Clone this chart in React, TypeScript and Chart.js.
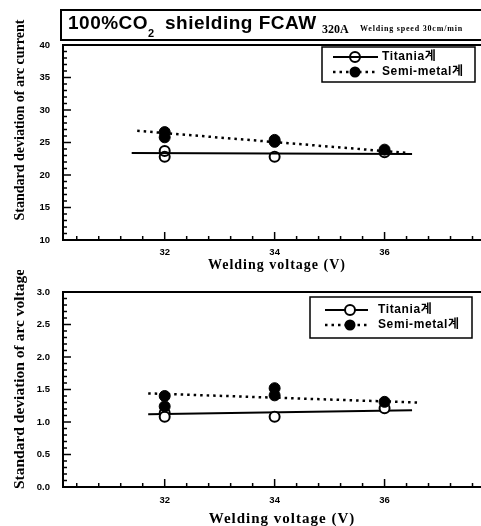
import React, { useEffect, useRef } from "react";
import { Chart, registerables } from "chart.js";

Chart.register(...registerables);

// ---------- data ----------
const xTickValues = [32, 34, 36];
const currentTicksStep = 5;
const voltageTicksStep = 0.5;

// Arc current chart
const curTitaniaX = [32, 32, 34, 36];
const curTitaniaY = [23.7, 22.8, 22.8, 23.5];
const curSemiX = [32, 32, 34, 34, 36];
const curSemiY = [26.6, 25.8, 25.4, 25.1, 23.9];
const curTitaniaFitX = [31.4, 36.5];
const curTitaniaFitY = [23.4, 23.25];
const curSemiFitX = [31.5, 36.4];
const curSemiFitY = [26.8, 23.4];

// Arc voltage chart
const voltTitaniaX = [32, 32, 34, 36];
const voltTitaniaY = [1.14, 1.08, 1.08, 1.21];
const voltSemiX = [32, 32, 34, 34, 36];
const voltSemiY = [1.4, 1.24, 1.52, 1.41, 1.31];
const voltTitaniaFitX = [31.7, 36.5];
const voltTitaniaFitY = [1.12, 1.18];
const voltSemiFitX = [31.7, 36.6];
const voltSemiFitY = [1.44, 1.3];

const legendLabels = ["Titania계", "Semi-metal계"];

// ---------- styling ----------
const SERIF = "'Liberation Serif', 'DejaVu Serif', serif";
const SANS = "'Liberation Sans', Arial, 'Noto Sans CJK KR', sans-serif";
const CANVAS_W = 500;
const AREA_LEFT = 63;
const AREA_RIGHT = 489;
const X_MIN = 30.15;
const X_MAX = 37.9;

const zip = (xs: number[], ys: number[]) => xs.map((x, i) => ({ x, y: ys[i] }));

type Panel = {
  canvasTop: number;
  height: number;
  areaTop: number;
  areaBottom: number;
  yMin: number;
  yMax: number;
  yStep: number;
  yMinorCount: number;
  yDecimals: number;
  yLabelPad: number;
  xLabelPad: number;
  tiX: number[]; tiY: number[]; smX: number[]; smY: number[];
  tiFitX: number[]; tiFitY: number[]; smFitX: number[]; smFitY: number[];
  openFill: string;
  legend: { x: number; y: number; w: number; h: number; rows: number[]; l1: number; l2: number; mx: number; tx: number };
  yTitle: { text: string; x: number; y: number; size: number; spacing: number };
  xTitle: { text: string; x: number; y: number; size: number; spacing: number };
  mainTitle: boolean;
};

const topPanel: Panel = {
  canvasTop: 0,
  height: 275,
  areaTop: 45,
  areaBottom: 240,
  yMin: 10,
  yMax: 40,
  yStep: currentTicksStep,
  yMinorCount: 30,
  yDecimals: 0,
  yLabelPad: 13,
  xLabelPad: 7,
  tiX: curTitaniaX, tiY: curTitaniaY, smX: curSemiX, smY: curSemiY,
  tiFitX: curTitaniaFitX, tiFitY: curTitaniaFitY, smFitX: curSemiFitX, smFitY: curSemiFitY,
  openFill: "rgba(255,255,255,0)",
  legend: { x: 322, y: 47, w: 153, h: 35, rows: [57, 72], l1: 333, l2: 378, mx: 355, tx: 382 },
  yTitle: { text: "Standard deviation of arc current", x: 20, y: 120, size: 14, spacing: 0 },
  xTitle: { text: "Welding voltage (V)", x: 277, y: 265, size: 14, spacing: 1 },
  mainTitle: true,
};

const bottomPanel: Panel = {
  canvasTop: 270,
  height: 262,
  areaTop: 22,
  areaBottom: 217,
  yMin: 0,
  yMax: 3,
  yStep: voltageTicksStep,
  yMinorCount: 30,
  yDecimals: 1,
  yLabelPad: 13,
  xLabelPad: 8,
  tiX: voltTitaniaX, tiY: voltTitaniaY, smX: voltSemiX, smY: voltSemiY,
  tiFitX: voltTitaniaFitX, tiFitY: voltTitaniaFitY, smFitX: voltSemiFitX, smFitY: voltSemiFitY,
  openFill: "#ffffff",
  legend: { x: 310, y: 27, w: 162, h: 41, rows: [40, 55], l1: 325, l2: 368, mx: 350, tx: 378 },
  yTitle: { text: "Standard deviation of arc voltage", x: 20, y: 109, size: 15.5, spacing: 0 },
  xTitle: { text: "Welding voltage (V)", x: 282, y: 249, size: 15, spacing: 1 },
  mainTitle: false,
};

function decorPlugin(p: Panel) {
  return {
    id: "decor",
    afterDraw(chart: any) {
      const ctx: CanvasRenderingContext2D = chart.ctx;
      const { left, top, bottom } = chart.chartArea;
      const xs = chart.scales.x;
      const ys = chart.scales.y;
      ctx.save();
      ctx.strokeStyle = "#000";
      ctx.fillStyle = "#000";

      // top frame line
      ctx.lineWidth = 2;
      ctx.beginPath();
      ctx.moveTo(left - 1, top);
      ctx.lineTo(chart.width, top);
      ctx.stroke();

      // inward x ticks (every 0.4 V, major every 2 V)
      ctx.lineWidth = 1.5;
      for (let k = 76; k <= 94; k++) {
        const v = k * 0.4;
        const px = xs.getPixelForValue(v);
        const len = k % 5 === 0 ? 8 : 4;
        ctx.beginPath();
        ctx.moveTo(px, bottom);
        ctx.lineTo(px, bottom - len);
        ctx.stroke();
      }
      // inward y ticks
      for (let i = 1; i < p.yMinorCount; i++) {
        const v = p.yMin + ((p.yMax - p.yMin) * i) / p.yMinorCount;
        const py = ys.getPixelForValue(v);
        const len = i % 5 === 0 ? 8 : 4;
        ctx.beginPath();
        ctx.moveTo(left, py);
        ctx.lineTo(left + len, py);
        ctx.stroke();
      }

      // legend
      const L = p.legend;
      ctx.lineWidth = 1.5;
      ctx.strokeRect(L.x, L.y, L.w, L.h);
      ctx.lineWidth = 2;
      ctx.beginPath();
      ctx.moveTo(L.l1, L.rows[0]);
      ctx.lineTo(L.l2, L.rows[0]);
      ctx.stroke();
      ctx.beginPath();
      ctx.arc(L.mx, L.rows[0], 5, 0, Math.PI * 2);
      ctx.fillStyle = p.openFill;
      ctx.fill();
      ctx.stroke();
      ctx.setLineDash([2.5, 4]);
      ctx.lineWidth = 2.5;
      ctx.beginPath();
      ctx.moveTo(L.l1, L.rows[1]);
      ctx.lineTo(L.l2, L.rows[1]);
      ctx.stroke();
      ctx.setLineDash([]);
      ctx.fillStyle = "#000";
      ctx.beginPath();
      ctx.arc(L.mx, L.rows[1], 5.5, 0, Math.PI * 2);
      ctx.fill();
      ctx.font = `bold 12px ${SANS}`;
      ctx.textBaseline = "middle";
      ctx.textAlign = "left";
      (ctx as any).letterSpacing = "0.6px";
      ctx.fillText(legendLabels[0], L.tx, L.rows[0]);
      ctx.fillText(legendLabels[1], L.tx, L.rows[1]);

      // axis titles
      ctx.textAlign = "center";
      ctx.textBaseline = "middle";
      (ctx as any).letterSpacing = `${p.xTitle.spacing}px`;
      ctx.font = `bold ${p.xTitle.size}px ${SERIF}`;
      ctx.fillText(p.xTitle.text, p.xTitle.x, p.xTitle.y);
      (ctx as any).letterSpacing = `${p.yTitle.spacing}px`;
      ctx.save();
      ctx.translate(p.yTitle.x, p.yTitle.y);
      ctx.rotate(-Math.PI / 2);
      ctx.font = `bold ${p.yTitle.size}px ${SERIF}`;
      ctx.fillText(p.yTitle.text, 0, 0);
      ctx.restore();
      (ctx as any).letterSpacing = "0px";

      // main title box
      if (p.mainTitle) {
        ctx.lineWidth = 2;
        ctx.strokeRect(61, 10, CANVAS_W, 30);
        ctx.textAlign = "left";
        ctx.textBaseline = "alphabetic";
        ctx.font = `bold 19px ${SANS}`;
        (ctx as any).letterSpacing = "0.5px";
        ctx.fillText("100%CO", 68, 29);
        ctx.font = `bold 11px ${SANS}`;
        ctx.fillText("2", 148, 37);
        ctx.font = `bold 19px ${SANS}`;
        ctx.fillText("shielding FCAW", 165, 29);
        (ctx as any).letterSpacing = "0px";
        ctx.font = `bold 12px ${SERIF}`;
        ctx.fillText("320A", 322, 33);
        ctx.font = `bold 8px ${SERIF}`;
        (ctx as any).letterSpacing = "0.8px";
        ctx.fillText("Welding speed 30cm/min", 360, 31);
        (ctx as any).letterSpacing = "0px";
      }
      ctx.restore();
    },
  };
}

function buildConfig(p: Panel): any {
  const tickFont = { family: SANS, size: 9.5, weight: "bold" as const };
  return {
    type: "scatter",
    data: {
      datasets: [
        {
          label: "Titania fit",
          data: zip(p.tiFitX, p.tiFitY),
          showLine: true,
          borderColor: "#000",
          borderWidth: 2,
          pointRadius: 0,
          order: 3,
        },
        {
          label: "Semi-metal fit",
          data: zip(p.smFitX, p.smFitY),
          showLine: true,
          borderColor: "#000",
          borderWidth: 2.5,
          borderDash: [2.5, 4],
          pointRadius: 0,
          order: 3,
        },
        {
          label: legendLabels[0],
          data: zip(p.tiX, p.tiY),
          showLine: false,
          pointRadius: 5,
          pointBorderWidth: 2,
          pointBorderColor: "#000",
          pointBackgroundColor: p.openFill,
          order: 2,
        },
        {
          label: legendLabels[1],
          data: zip(p.smX, p.smY),
          showLine: false,
          pointRadius: 5.5,
          pointBorderWidth: 1,
          pointBorderColor: "#000",
          pointBackgroundColor: "#000",
          order: 1,
        },
      ],
    },
    options: {
      animation: false,
      responsive: false,
      maintainAspectRatio: false,
      events: [],
      layout: { padding: { top: p.areaTop, left: 0, right: CANVAS_W - AREA_RIGHT, bottom: 0 } },
      plugins: { legend: { display: false }, tooltip: { enabled: false }, title: { display: false } },
      scales: {
        x: {
          type: "linear",
          position: "bottom",
          min: X_MIN,
          max: X_MAX,
          grid: { display: false, drawTicks: false },
          border: { display: true, color: "#000", width: 2 },
          ticks: {
            color: "#000",
            font: tickFont,
            padding: p.xLabelPad,
            maxRotation: 0,
            autoSkip: false,
            callback: (v: number) => String(v),
          },
          afterBuildTicks: (s: any) => {
            s.ticks = xTickValues.map((v) => ({ value: v }));
          },
          afterFit: (s: any) => {
            s.height = p.height - p.areaBottom;
          },
        },
        y: {
          type: "linear",
          position: "left",
          min: p.yMin,
          max: p.yMax,
          grid: { display: false, drawTicks: false },
          border: { display: true, color: "#000", width: 2 },
          ticks: {
            color: "#000",
            font: tickFont,
            padding: p.yLabelPad,
            stepSize: p.yStep,
            callback: (v: number) => Number(v).toFixed(p.yDecimals),
          },
          afterFit: (s: any) => {
            s.width = AREA_LEFT;
          },
        },
      },
    },
    plugins: [decorPlugin(p)],
  };
}

function ChartPanel({ panel }: { panel: Panel }) {
  const ref = useRef<HTMLCanvasElement | null>(null);
  useEffect(() => {
    if (!ref.current) return;
    const chart = new Chart(ref.current, buildConfig(panel));
    return () => chart.destroy();
  }, [panel]);
  return (
    <canvas
      ref={ref}
      width={CANVAS_W}
      height={panel.height}
      style={{
        position: "absolute",
        left: 0,
        top: panel.canvasTop,
        width: CANVAS_W,
        height: panel.height,
        display: "block",
      }}
    />
  );
}

export default function App() {
  return (
    <div
      style={{
        position: "absolute",
        left: 0,
        top: 0,
        width: 481,
        height: 526,
        overflow: "hidden",
        background: "#fff",
      }}
    >
      <ChartPanel panel={topPanel} />
      <ChartPanel panel={bottomPanel} />
    </div>
  );
}
